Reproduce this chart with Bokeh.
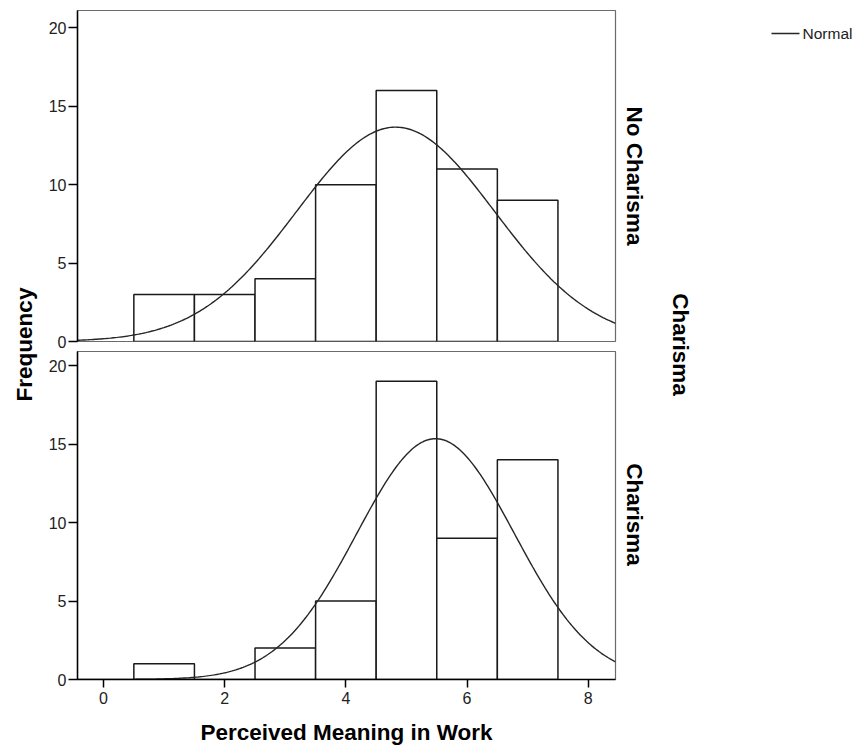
import numpy as np
from bokeh.plotting import figure
from bokeh.layouts import row, column
from bokeh.models import Range1d, FixedTicker, ColumnDataSource
from bokeh.core.properties import value
from bokeh.embed import file_html
from bokeh.resources import INLINE

# ---------------- data ----------------
bin_centers = [1, 2, 3, 4, 5, 6, 7]
counts_no_charisma = [3, 3, 4, 10, 16, 11, 9]
counts_charisma = [1, 0, 2, 5, 19, 9, 14]
normal_mean_no_charisma = 4.82
normal_sd_no_charisma = 1.635
normal_mean_charisma = 5.48
normal_sd_charisma = 1.30
x_ticks = [0, 2, 4, 6, 8]
y_ticks = [0, 5, 10, 15, 20]
panel_labels = ["No Charisma", "Charisma"]
facet_title = "Charisma"
x_title = "Perceived Meaning in Work"
y_title = "Frequency"
legend_text = "Normal"

FONT = "Liberation Sans"
BIN_W = 1.0
X_MIN, X_MAX = -0.43, 8.45
Y_MAX_TOP = 21.1
Y_MAX_BOTTOM = 20.9
TICK_FS = "16px"
TITLE_FS = "22.5px"


def panel(counts, mean, sd, height, top_border, bottom_border, show_x, y_max):
    p = figure(width=580, height=height, output_backend="svg", toolbar_location=None,
               x_range=Range1d(X_MIN, X_MAX), y_range=Range1d(0, y_max),
               x_axis_location="below" if show_x else None,
               min_border_left=37, min_border_right=5,
               min_border_top=top_border, min_border_bottom=bottom_border)
    p.grid.visible = False
    p.outline_line_color = "#6b6b6b"
    p.outline_line_width = 1.2
    p.background_fill_color = "white"
    p.border_fill_color = "white"

    left = [c - BIN_W / 2 for c in bin_centers]
    right = [c + BIN_W / 2 for c in bin_centers]
    src = ColumnDataSource(dict(left=left, right=right, top=counts, bottom=[0] * len(counts)))
    p.quad(left="left", right="right", top="top", bottom="bottom", source=src,
           fill_color="white", line_color="#1a1a1a", line_width=1.5)

    n = sum(counts)
    xs = np.linspace(X_MIN, X_MAX, 300)
    ys = n * BIN_W / (sd * np.sqrt(2 * np.pi)) * np.exp(-0.5 * ((xs - mean) / sd) ** 2)
    p.line(xs, ys, line_color="#262626", line_width=1.4)

    for ax in p.yaxis:
        ax.ticker = FixedTicker(ticks=y_ticks)
        ax.minor_tick_line_color = None
        ax.major_tick_out = 9
        ax.major_tick_in = 0
        ax.major_tick_line_color = "black"
        ax.major_tick_line_width = 1.5
        ax.axis_line_color = "black"
        ax.axis_line_width = 1.5
        ax.major_label_text_font = FONT
        ax.major_label_text_font_size = TICK_FS
        ax.major_label_text_color = "#222222"
        ax.major_label_standoff = 2
    if show_x:
        for ax in p.xaxis:
            ax.ticker = FixedTicker(ticks=x_ticks)
            ax.minor_tick_line_color = None
            ax.major_tick_out = 8
            ax.major_tick_in = 0
            ax.major_tick_line_color = "black"
            ax.major_tick_line_width = 1.5
            ax.axis_line_color = "black"
            ax.axis_line_width = 1.5
            ax.major_label_text_font = FONT
            ax.major_label_text_font_size = TICK_FS
            ax.major_label_text_color = "#222222"
            ax.major_label_standoff = 4
            ax.axis_label = x_title
            ax.axis_label_text_font = FONT
            ax.axis_label_text_font_size = TITLE_FS
            ax.axis_label_text_font_style = "bold"
            ax.axis_label_text_color = "black"
            ax.axis_label_standoff = 13
    return p


top = panel(counts_no_charisma, normal_mean_no_charisma, normal_sd_no_charisma,
            351, 10, 10, False, Y_MAX_TOP)
bottom = panel(counts_charisma, normal_mean_charisma, normal_sd_charisma,
               398, 0, 70, True, Y_MAX_BOTTOM)

H = 749


def blank(width, x0):
    f = figure(width=width, height=H, output_backend="svg", toolbar_location=None,
               x_range=Range1d(x0, x0 + width), y_range=Range1d(0, H),
               x_axis_location=None, y_axis_location=None,
               min_border=0)
    f.grid.visible = False
    f.outline_line_color = None
    f.border_fill_color = "white"
    f.background_fill_color = "white"
    return f


left_fig = blank(40, 0)
left_fig.text(x=[24], y=[H - 344], text=[y_title], angle=np.pi / 2,
              text_font=value(FONT), text_font_size=TITLE_FS, text_font_style="bold",
              text_align="center", text_baseline="middle", text_color="black")

right_fig = blank(236, 620)
# panel labels (top-to-bottom reading)
right_fig.text(x=[634, 634], y=[H - 175.5, H - 514], text=panel_labels,
               angle=-np.pi / 2, text_font=value(FONT), text_font_size=TITLE_FS,
               text_font_style="bold", text_align="center", text_baseline="middle",
               text_color="black")
right_fig.text(x=[680], y=[H - 344], text=[facet_title], angle=-np.pi / 2,
               text_font=value(FONT), text_font_size=TITLE_FS, text_font_style="bold",
               text_align="center", text_baseline="middle", text_color="black")
# legend
right_fig.line(x=[771, 799], y=[H - 33, H - 33], line_color="#262626", line_width=1.4)
right_fig.text(x=[802], y=[H - 33], text=[legend_text], text_font=value(FONT),
               text_font_size="15.5px", text_align="left", text_baseline="middle",
               text_color="#222222")

layout = row(left_fig, column(top, bottom, spacing=0), right_fig, spacing=0)
open("out.html", "w").write(file_html(layout, INLINE))
